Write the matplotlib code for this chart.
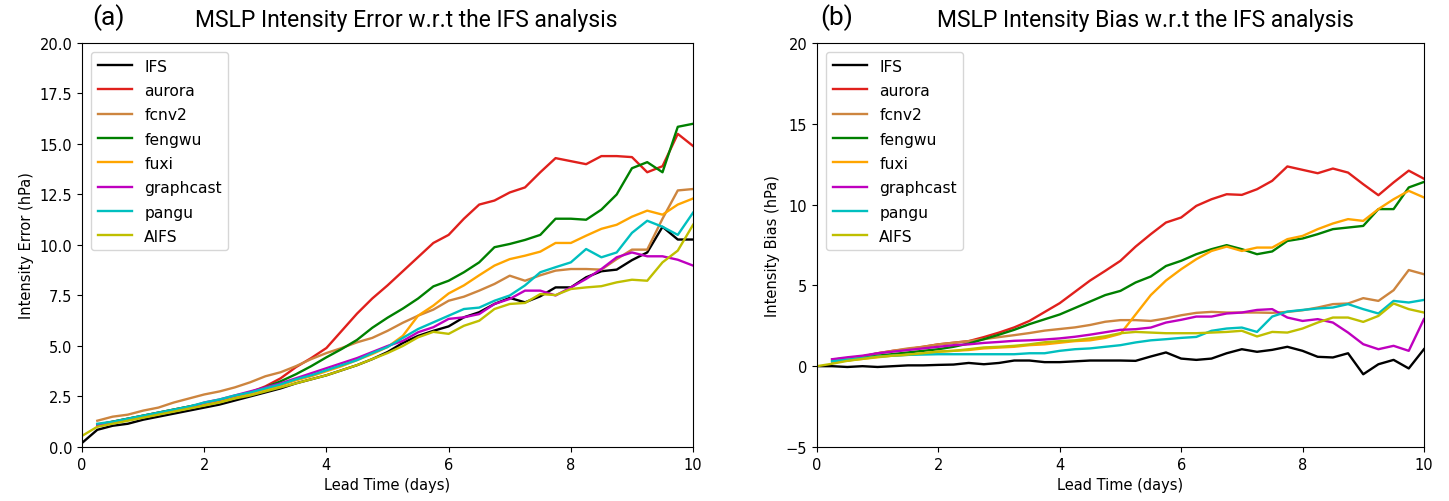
import numpy as np
import matplotlib
matplotlib.use("Agg")
import matplotlib.pyplot as plt

# lead time (days), 6-hourly
lead = np.arange(41) * 0.25

models = ["IFS", "aurora", "fcnv2", "fengwu", "fuxi", "graphcast", "pangu", "AIFS"]
colors = ["black", "#e0201c", "peru", "green", "orange", "m", "c", "y"]

# (a) intensity error [hPa]; IFS and AIFS start at t=0, others at t=0.25
err_ifs = [0.2, 0.85, 1.05, 1.15, 1.35, 1.5, 1.65, 1.8, 1.95, 2.1, 2.3, 2.5, 2.7, 2.9, 3.15,
           3.35, 3.55, 3.8, 4.05, 4.35, 4.7, 5.15, 5.5, 5.75, 5.97, 6.42, 6.67, 7.08, 7.38,
           7.16, 7.46, 7.9, 7.9, 8.4, 8.7, 8.78, 9.25, 9.63, 10.9, 10.27, 10.27]
err_aurora = [1.1, 1.25, 1.4, 1.55, 1.7, 1.85, 2.0, 2.15, 2.3, 2.5, 2.7, 3.0, 3.4, 3.95,
              4.4, 4.9, 5.75, 6.6, 7.35, 8.0, 8.7, 9.4, 10.1, 10.5, 11.3, 12.0, 12.2, 12.6,
              12.85, 13.6, 14.3, 14.15, 14.0, 14.4, 14.4, 14.35, 13.6, 13.9, 15.5, 14.9]
err_fcnv2 = [1.3, 1.5, 1.6, 1.8, 1.95, 2.2, 2.4, 2.6, 2.75, 2.95, 3.2, 3.5, 3.7, 4.0, 4.35,
             4.65, 4.9, 5.18, 5.4, 5.75, 6.15, 6.5, 6.8, 7.24, 7.44, 7.74, 8.07, 8.48, 8.23,
             8.5, 8.73, 8.81, 8.81, 8.78, 9.3, 9.77, 9.77, 11.3, 12.7, 12.77]
err_fengwu = [1.1, 1.25, 1.4, 1.55, 1.7, 1.85, 2.0, 2.15, 2.3, 2.5, 2.7, 2.95, 3.25, 3.6,
              4.0, 4.44, 4.85, 5.3, 5.9, 6.4, 6.85, 7.35, 7.95, 8.23, 8.65, 9.14, 9.89,
              10.05, 10.25, 10.5, 11.3, 11.3, 11.25, 11.75, 12.5, 13.8, 14.1, 13.6, 15.85, 16.0]
err_fuxi = [1.1, 1.2, 1.35, 1.5, 1.65, 1.8, 1.95, 2.15, 2.3, 2.5, 2.65, 2.85, 3.05, 3.3,
            3.5, 3.75, 4.0, 4.3, 4.6, 4.95, 5.5, 6.5, 7.0, 7.6, 8.0, 8.5, 8.98, 9.3, 9.47,
            9.67, 10.1, 10.1, 10.46, 10.8, 11.0, 11.4, 11.7, 11.5, 12.0, 12.3]
err_graphcast = [1.1, 1.2, 1.35, 1.5, 1.65, 1.8, 1.95, 2.2, 2.35, 2.55, 2.75, 2.95, 3.15,
                 3.4, 3.65, 3.9, 4.15, 4.4, 4.7, 5.0, 5.25, 5.68, 5.93, 6.34, 6.42, 6.58,
                 7.08, 7.33, 7.74, 7.74, 7.5, 7.9, 8.32, 8.81, 9.39, 9.63, 9.44, 9.44, 9.27, 8.98]
err_pangu = [1.15, 1.25, 1.4, 1.55, 1.7, 1.85, 2.0, 2.2, 2.35, 2.55, 2.7, 2.9, 3.1, 3.35,
             3.55, 3.8, 4.05, 4.3, 4.65, 4.95, 5.4, 5.84, 6.17, 6.5, 6.83, 6.9, 7.24, 7.5,
             8.0, 8.65, 8.9, 9.14, 9.8, 9.39, 9.63, 10.6, 11.2, 10.9, 10.5, 11.6]
err_aifs = [0.55, 1.0, 1.15, 1.3, 1.45, 1.6, 1.75, 1.9, 2.05, 2.2, 2.4, 2.55, 2.75, 2.95,
            3.15, 3.35, 3.55, 3.8, 4.05, 4.35, 4.65, 5.0, 5.43, 5.7, 5.6, 6.0, 6.25, 6.83,
            7.08, 7.13, 7.57, 7.52, 7.82, 7.9, 7.96, 8.15, 8.28, 8.23, 9.14, 9.72, 11.0]

# (b) intensity bias [hPa]
bias_ifs = [0.0, 0.0, -0.05, 0.0, -0.05, 0.0, 0.05, 0.05, 0.08, 0.1, 0.2, 0.12, 0.2, 0.35,
            0.35, 0.25, 0.25, 0.3, 0.35, 0.35, 0.35, 0.33, 0.6, 0.85, 0.47, 0.39, 0.47, 0.8,
            1.05, 0.89, 1.01, 1.2, 0.95, 0.58, 0.54, 0.8, -0.5, 0.12, 0.39, -0.14, 1.05]
bias_aurora = [0.4, 0.5, 0.6, 0.8, 0.95, 1.05, 1.2, 1.35, 1.45, 1.55, 1.8, 2.08, 2.4, 2.8,
               3.35, 3.9, 4.6, 5.3, 5.9, 6.52, 7.4, 8.17, 8.89, 9.2, 9.92, 10.33, 10.64,
               10.6, 10.95, 11.47, 12.36, 12.15, 11.94, 12.23, 11.98, 11.26, 10.58, 11.37,
               12.1, 11.6]
bias_fcnv2 = [0.4, 0.5, 0.6, 0.8, 0.95, 1.1, 1.2, 1.35, 1.45, 1.55, 1.67, 1.8, 1.92, 2.05,
              2.2, 2.3, 2.4, 2.55, 2.75, 2.85, 2.85, 2.8, 2.95, 3.15, 3.3, 3.36, 3.32, 3.32,
              3.32, 3.3, 3.36, 3.46, 3.63, 3.84, 3.88, 4.21, 4.04, 4.7, 5.95, 5.69]
bias_fengwu = [0.3, 0.35, 0.5, 0.65, 0.75, 0.85, 0.95, 1.05, 1.2, 1.4, 1.67, 1.95, 2.25,
               2.6, 2.9, 3.2, 3.6, 4.0, 4.4, 4.66, 5.18, 5.55, 6.2, 6.52, 6.93, 7.24, 7.49,
               7.24, 6.93, 7.1, 7.75, 7.9, 8.17, 8.48, 8.58, 8.68, 9.72, 9.72, 11.06, 11.4]
bias_fuxi = [0.25, 0.35, 0.45, 0.55, 0.65, 0.7, 0.8, 0.9, 0.95, 1.0, 1.1, 1.15, 1.2, 1.3,
             1.35, 1.45, 1.55, 1.6, 1.75, 2.0, 3.2, 4.4, 5.3, 6.0, 6.62, 7.13, 7.4, 7.13,
             7.34, 7.34, 7.86, 8.06, 8.48, 8.83, 9.1, 8.99, 9.72, 10.33, 10.85, 10.44]
bias_graphcast = [0.43, 0.55, 0.65, 0.8, 0.9, 1.0, 1.1, 1.2, 1.3, 1.35, 1.44, 1.5, 1.57,
                  1.6, 1.65, 1.72, 1.82, 1.95, 2.1, 2.25, 2.29, 2.39, 2.7, 2.87, 3.07, 3.07,
                  3.26, 3.32, 3.48, 3.53, 3.01, 2.8, 2.91, 2.7, 2.08, 1.36, 1.05, 1.26, 0.95,
                  2.91]
bias_pangu = [0.3, 0.4, 0.5, 0.6, 0.65, 0.7, 0.72, 0.74, 0.74, 0.74, 0.74, 0.74, 0.74, 0.8,
              0.8, 0.95, 1.05, 1.1, 1.2, 1.3, 1.47, 1.6, 1.67, 1.75, 1.81, 2.19, 2.33, 2.39,
              2.12, 3.07, 3.38, 3.48, 3.57, 3.63, 3.84, 3.53, 3.26, 4.04, 3.94, 4.1]
bias_aifs = [0.0, 0.15, 0.33, 0.45, 0.58, 0.65, 0.72, 0.8, 0.9, 0.95, 1.05, 1.16, 1.2, 1.26,
             1.35, 1.48, 1.55, 1.6, 1.72, 1.85, 2.04, 2.12, 2.08, 2.04, 2.04, 2.04, 2.08,
             2.12, 2.19, 1.84, 2.12, 2.08, 2.33, 2.7, 3.01, 3.01, 2.74, 3.11, 3.88, 3.53, 3.32]

err = [err_ifs, err_aurora, err_fcnv2, err_fengwu, err_fuxi, err_graphcast, err_pangu, err_aifs]
bias = [bias_ifs, bias_aurora, bias_fcnv2, bias_fengwu, bias_fuxi, bias_graphcast,
        bias_pangu, bias_aifs]

fig = plt.figure(figsize=(14.49, 5.02), dpi=100)
ax1 = fig.add_axes([0.0566, 0.1076, 0.4217, 0.8048])
ax2 = fig.add_axes([0.5638, 0.1076, 0.4189, 0.8048])


def draw(ax, series):
    for name, col, vals in zip(models, colors, series):
        t = lead[len(lead) - len(vals):]
        ax.plot(t, vals, color=col, lw=1.7, label=name)
    ax.set_xlim(0, 10)
    ax.set_xticks(range(0, 11, 2))
    ax.set_xlabel("Lead Time (days)", fontsize=10.5)
    ax.tick_params(labelsize=10.5)
    ax.legend(loc="upper left", fontsize=11.2, handlelength=2.2, labelspacing=0.6,
              borderaxespad=0.6)


draw(ax1, err)
ax1.set_ylim(0, 20)
ax1.set_yticks(np.arange(0, 20.1, 2.5))
ax1.yaxis.set_major_formatter(matplotlib.ticker.FormatStrFormatter("%.1f"))
ax1.set_ylabel("Intensity Error (hPa)", fontsize=10.5)

draw(ax2, bias)
ax2.set_ylim(-5, 20)
ax2.set_yticks(range(-5, 21, 5))
ax2.set_ylabel("Intensity Bias (hPa)", fontsize=10.5)

tfont = ["Roboto", "DejaVu Sans"]
fig.text(108 / 1449, 1 - 18 / 502, "(a)", fontsize=19, family=tfont, ha="center", va="center")
fig.text(406 / 1449, 1 - 20 / 502, "MSLP Intensity Error w.r.t the IFS analysis",
         fontsize=16.5, family=tfont, ha="center", va="center")
fig.text(837 / 1449, 1 - 18 / 502, "(b)", fontsize=19, family=tfont, ha="center", va="center")
fig.text(1145 / 1449, 1 - 20 / 502, "MSLP Intensity Bias w.r.t the IFS analysis",
         fontsize=16.5, family=tfont, ha="center", va="center")

fig.savefig("out.png", dpi=100)
